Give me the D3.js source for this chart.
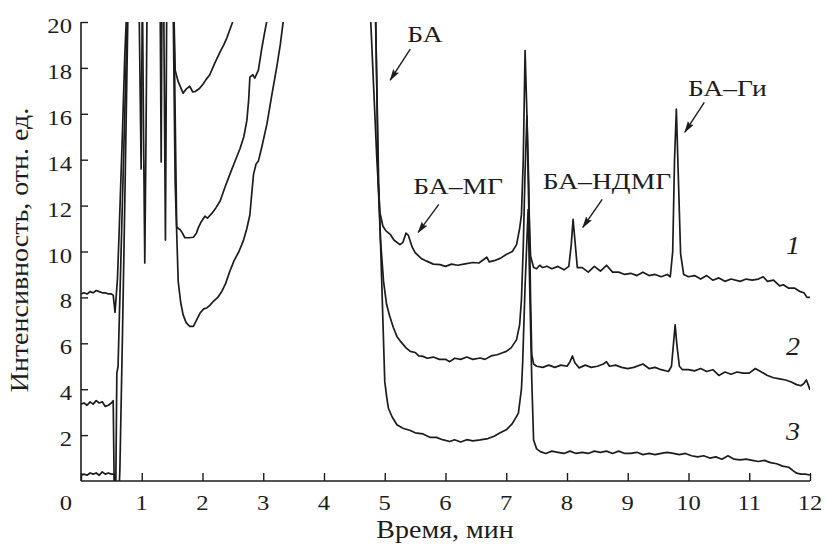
<!DOCTYPE html>
<html>
<head>
<meta charset="utf-8">
<script src="https://cdn.jsdelivr.net/npm/d3@7"></script>
<style>
  html, body { margin: 0; padding: 0; background: #fff; }
  svg { display: block; font-family: "Liberation Serif", "DejaVu Serif", serif; }
</style>
</head>
<body>
<svg id="chart" width="825" height="544"></svg>
<script>
// chromatogram 1 (top)
const t1 = [0,0.05,0.1,0.15,0.2,0.25,0.3,0.35,0.4,0.45,0.5,0.53,0.56,0.6,0.63,0.68,0.72,0.76,0.85,0.95,0.99,1.02,1.25,1.3,1.32,1.34,1.5,1.55,1.6,1.68,1.74,1.79,1.84,1.88,1.95,2.01,2.06,2.12,2.2,2.29,2.35,2.4,2.51,2.6,2.7,4.7,4.77,4.82,4.87,4.92,4.97,5.02,5.09,5.15,5.25,5.3,5.35,5.39,5.45,5.5,5.6,5.69,5.8,5.91,6.0,6.1,6.2,6.3,6.45,6.55,6.68,6.72,6.8,6.9,7.0,7.1,7.17,7.22,7.25,7.28,7.31,7.34,7.37,7.4,7.45,7.5,7.55,7.6,7.67,7.75,7.85,7.95,8.03,8.07,8.1,8.13,8.17,8.25,8.35,8.45,8.55,8.65,8.75,8.85,8.95,9.05,9.15,9.25,9.35,9.45,9.55,9.65,9.7,9.74,9.77,9.8,9.83,9.87,9.92,10.0,10.1,10.2,10.3,10.4,10.5,10.6,10.7,10.85,10.95,11.05,11.15,11.23,11.3,11.4,11.5,11.56,11.65,11.75,11.84,11.9,11.95,12.0];
const v1 = [8.15,8.2,8.15,8.25,8.2,8.3,8.25,8.2,8.2,8.15,8.15,8.1,7.35,8.8,11.0,15.0,18.5,21,25,22,13.6,25,25,22,13.9,25,24,17.9,17.4,16.9,17.1,17.2,16.95,16.97,17.1,17.3,17.5,17.7,18.2,18.7,19.0,19.3,20.1,21,23,25,20,17,14,11.7,11.1,10.9,10.75,10.5,10.3,10.4,10.8,10.7,10.2,9.95,9.7,9.58,9.45,9.43,9.35,9.45,9.4,9.45,9.52,9.5,9.75,9.55,9.6,9.7,9.87,10.0,10.3,11.0,11.6,14.0,18.75,16.0,12.0,9.8,9.3,9.25,9.4,9.3,9.36,9.25,9.35,9.2,9.35,10.3,11.4,10.5,9.3,9.3,9.1,9.35,9.15,9.4,9.1,9.1,9.0,9.05,8.95,9.1,8.95,9.0,8.9,9.0,8.9,10.0,14.0,16.2,13.5,9.9,9.0,8.9,8.95,8.8,8.95,8.75,8.85,8.7,8.8,8.7,8.8,8.75,8.8,8.9,8.7,8.75,8.5,8.55,8.4,8.4,8.25,8.2,8.0,8.0];

// chromatogram 2 (middle)
const t2 = [0,0.05,0.1,0.15,0.2,0.25,0.3,0.35,0.4,0.45,0.5,0.53,0.55,0.57,0.59,0.61,0.65,0.7,0.76,0.8,1.0,1.03,1.05,1.07,1.1,1.35,1.39,1.42,1.5,1.53,1.56,1.575,1.6,1.63,1.67,1.71,1.78,1.85,1.9,1.93,1.98,2.04,2.08,2.15,2.22,2.29,2.37,2.45,2.53,2.62,2.68,2.73,2.76,2.78,2.83,2.86,2.92,2.97,3.02,3.06,3.15,3.3,4.75,4.82,4.87,4.89,4.93,4.98,5.03,5.08,5.14,5.2,5.27,5.35,5.42,5.5,5.56,5.63,5.7,5.8,5.9,6.0,6.07,6.15,6.25,6.35,6.45,6.57,6.65,6.75,6.85,6.95,7.0,7.08,7.17,7.22,7.25,7.28,7.31,7.34,7.37,7.4,7.42,7.45,7.5,7.6,7.7,7.8,7.9,8.0,8.05,8.09,8.13,8.2,8.3,8.4,8.5,8.6,8.65,8.7,8.8,8.9,9.0,9.1,9.25,9.35,9.45,9.55,9.67,9.72,9.75,9.78,9.81,9.85,9.9,10.0,10.1,10.2,10.3,10.4,10.5,10.6,10.7,10.8,10.9,11.0,11.1,11.2,11.3,11.4,11.5,11.6,11.7,11.78,11.85,11.9,11.94,11.97,12.0];
const v2 = [3.35,3.4,3.3,3.45,3.35,3.5,3.4,3.45,3.25,3.3,3.4,3.5,-1,-1,4.7,5.0,9,14,20,25,25,15,9.5,15,25,25,10.5,25,25,20,14,11.1,11.0,10.96,10.8,10.6,10.6,10.62,10.8,11.03,11.3,11.54,11.45,11.65,11.9,12.2,12.8,13.36,13.9,14.5,15.0,15.7,16.6,17.6,17.7,17.55,17.9,18.75,19.5,20.05,22,26,30,25,17,13.1,10.5,8.7,7.7,7.2,6.7,6.3,6.05,5.8,5.65,5.6,5.45,5.43,5.35,5.4,5.3,5.3,5.2,5.35,5.3,5.4,5.3,5.36,5.3,5.45,5.5,5.6,5.65,5.8,6.16,6.8,7.9,10.2,13.5,15.9,13.0,8.0,5.5,5.1,5.0,4.95,5.05,4.95,5.05,5.0,5.2,5.45,5.15,4.93,5.05,4.95,5.0,5.1,5.2,5.0,5.05,4.95,4.9,4.95,5.1,4.9,4.95,4.85,4.77,5.0,5.9,6.8,5.9,5.0,4.85,4.85,4.8,4.9,4.77,4.85,4.6,4.75,4.65,4.75,4.7,4.7,4.9,4.75,4.6,4.5,4.45,4.4,4.3,4.2,4.15,4.25,4.4,4.2,3.97];

// chromatogram 3 (bottom)
const t3 = [0,0.05,0.1,0.15,0.2,0.25,0.3,0.35,0.4,0.45,0.5,0.55,0.57,0.62,0.64,0.68,0.72,0.77,0.8,1.48,1.52,1.55,1.6,1.64,1.68,1.73,1.79,1.85,1.9,1.96,2.02,2.07,2.12,2.18,2.25,2.32,2.38,2.45,2.52,2.6,2.67,2.73,2.78,2.81,2.84,2.88,2.92,2.98,3.06,3.14,3.22,3.28,3.33,3.4,4.8,4.85,4.9,4.95,5.0,5.03,5.06,5.12,5.2,5.3,5.42,5.5,5.63,5.75,5.85,5.95,6.07,6.15,6.25,6.35,6.45,6.57,6.7,6.8,6.9,7.0,7.1,7.2,7.25,7.27,7.31,7.36,7.39,7.42,7.45,7.5,7.56,7.65,7.75,7.85,7.95,8.05,8.15,8.25,8.35,8.45,8.55,8.65,8.75,8.85,8.95,9.05,9.15,9.25,9.35,9.45,9.55,9.65,9.75,9.85,9.95,10.05,10.15,10.25,10.35,10.45,10.55,10.65,10.75,10.85,10.95,11.05,11.15,11.25,11.35,11.45,11.55,11.65,11.72,11.78,11.85,11.92,12.0];
const v3 = [0.25,0.3,0.25,0.35,0.3,0.35,0.25,0.4,0.3,0.35,0.3,0.3,-1,-1,0.5,6,12,20,25,25,20,13,8.7,7.8,7.25,6.9,6.74,6.74,7.0,7.32,7.5,7.54,7.65,7.83,8.0,8.27,8.6,9.14,9.6,10.0,10.45,11.0,11.6,12.5,13.36,13.8,13.94,14.6,15.55,16.8,18.0,19.0,20.05,22,30,20,13,8.7,4.34,3.7,3.17,2.8,2.45,2.3,2.2,2.1,2.05,1.9,1.9,1.8,1.72,1.8,1.7,1.8,1.75,1.79,1.85,1.95,2.1,2.23,2.5,2.96,4.0,5.14,8.5,11.83,8.0,4.41,1.79,1.4,1.28,1.2,1.3,1.25,1.2,1.3,1.2,1.25,1.2,1.3,1.25,1.3,1.2,1.3,1.2,1.2,1.25,1.15,1.2,1.15,1.2,1.25,1.2,1.15,1.2,1.1,1.05,1.1,1.0,1.05,0.95,1.1,0.95,0.92,0.95,0.9,0.85,0.9,0.8,0.75,0.65,0.6,0.45,0.34,0.3,0.3,0.26];

const xTicks = [0,1,2,3,4,5,6,7,8,9,10,11,12];
const yTicks = [2,4,6,8,10,12,14,16,18,20];

// peak labels: text, text x/y, arrow start x/y, arrow end x/y (data units)
const peakNames = ["БА", "БА–МГ", "БА–НДМГ", "БА–Ги"];
const peakTextX = [5.37, 5.47, 7.6, 9.99];
const peakTextY = [19.13, 12.49, 12.71, 16.77];
const arrowFromX = [5.42, 5.89, 8.58, 10.26];
const arrowFromY = [18.82, 12.05, 12.27, 16.5];
const arrowToX = [5.09, 5.55, 8.26, 9.94];
const arrowToY = [17.47, 10.83, 11.05, 15.2];

const curveNames = ["1", "2", "3"];
const curveLabelX = [11.72, 11.72, 11.72];
const curveLabelY = [9.87, 5.5, 1.79];

const xLabel = "Время, мин";
const yLabel = "Интенсивность, отн. ед.";

(function () {
  const svg = d3.select("#chart");
  const ink = "#1c1c1c";
  const stretch = 1.12; // the print face runs wider than Liberation Serif
  const x = d3.scaleLinear().domain([0, 12]).range([81, 810]);
  const y = d3.scaleLinear().domain([0, 20]).range([481, 22]);

  const defs = svg.append("defs");
  defs.append("clipPath").attr("id", "plot-clip")
    .append("rect")
    .attr("x", x(0)).attr("y", y(20))
    .attr("width", x(12) - x(0)).attr("height", y(0) - y(20));

  defs.append("marker")
    .attr("id", "arrow")
    .attr("viewBox", "0 0 12 8")
    .attr("refX", 11).attr("refY", 4)
    .attr("markerWidth", 12).attr("markerHeight", 8)
    .attr("markerUnits", "userSpaceOnUse")
    .attr("orient", "auto")
    .append("path").attr("d", "M0,0.5 L12,4 L0,7.5 L2,4 z").attr("fill", ink);

  // traces
  const line = d3.line().x(d => x(d[0])).y(d => y(d[1]));
  const series = [[t1, v1], [t2, v2], [t3, v3]];
  const gLines = svg.append("g").attr("clip-path", "url(#plot-clip)");
  series.forEach(([ts, vs]) => {
    gLines.append("path")
      .datum(ts.map((t, i) => [t, vs[i]]))
      .attr("d", line)
      .attr("fill", "none")
      .attr("stroke", ink)
      .attr("stroke-width", 1.7)
      .attr("stroke-linejoin", "round");
  });

  // axes
  const xAxis = svg.append("g").attr("transform", `translate(0,${y(0)})`)
    .call(d3.axisTop(x).tickValues(xTicks).tickSize(8).tickFormat(""));
  const yAxis = svg.append("g").attr("transform", `translate(${x(0)},0)`)
    .call(d3.axisRight(y).tickValues(yTicks).tickSize(7).tickFormat(""));
  [xAxis, yAxis].forEach(g => {
    g.select(".domain").attr("stroke", ink).attr("stroke-width", 1.6);
    g.selectAll(".tick line").attr("stroke", ink).attr("stroke-width", 1.4);
  });
  xAxis.select(".domain").attr("d", `M${x(0)},0H${x(12)}`);
  yAxis.select(".domain").attr("d", `M0,${y(0)}V${y(20)}`);

  // tick labels
  svg.append("g").selectAll("text").data(xTicks).join("text")
    .attr("transform", d => `translate(${x(d) + (d === 0 ? -15 : 0)},510) scale(${stretch},1)`)
    .attr("text-anchor", "middle")
    .attr("font-size", 22).attr("fill", ink)
    .text(d => d);
  svg.append("g").selectAll("text").data(yTicks).join("text")
    .attr("transform", d => `translate(72,${y(d) + 11}) scale(${stretch},1)`)
    .attr("text-anchor", "end")
    .attr("font-size", 22).attr("fill", ink)
    .text(d => d);

  // axis titles
  svg.append("text")
    .attr("transform", `translate(445,538) scale(${stretch},1)`)
    .attr("text-anchor", "middle")
    .attr("font-size", 25).attr("fill", ink)
    .text(xLabel);
  svg.append("text")
    .attr("transform", `translate(28,250) rotate(-90) scale(${stretch},1)`)
    .attr("text-anchor", "middle")
    .attr("font-size", 25).attr("fill", ink)
    .text(yLabel);

  // peak annotations
  const gAnn = svg.append("g");
  peakNames.forEach((name, i) => {
    gAnn.append("text")
      .attr("transform", `translate(${x(peakTextX[i])},${y(peakTextY[i])}) scale(1.2,1)`)
      .attr("font-size", 23).attr("fill", ink)
      .text(name);
    gAnn.append("line")
      .attr("x1", x(arrowFromX[i])).attr("y1", y(arrowFromY[i]))
      .attr("x2", x(arrowToX[i])).attr("y2", y(arrowToY[i]))
      .attr("stroke", ink).attr("stroke-width", 1.4)
      .attr("marker-end", "url(#arrow)");
  });

  // curve numbers
  svg.append("g").selectAll("text").data(curveNames).join("text")
    .attr("transform", (d, i) => `translate(${x(curveLabelX[i])},${y(curveLabelY[i])}) scale(${stretch},1)`)
    .attr("text-anchor", "middle")
    .attr("font-size", 25).attr("font-style", "italic").attr("fill", ink)
    .text(d => d);
})();
</script>
</body>
</html>
